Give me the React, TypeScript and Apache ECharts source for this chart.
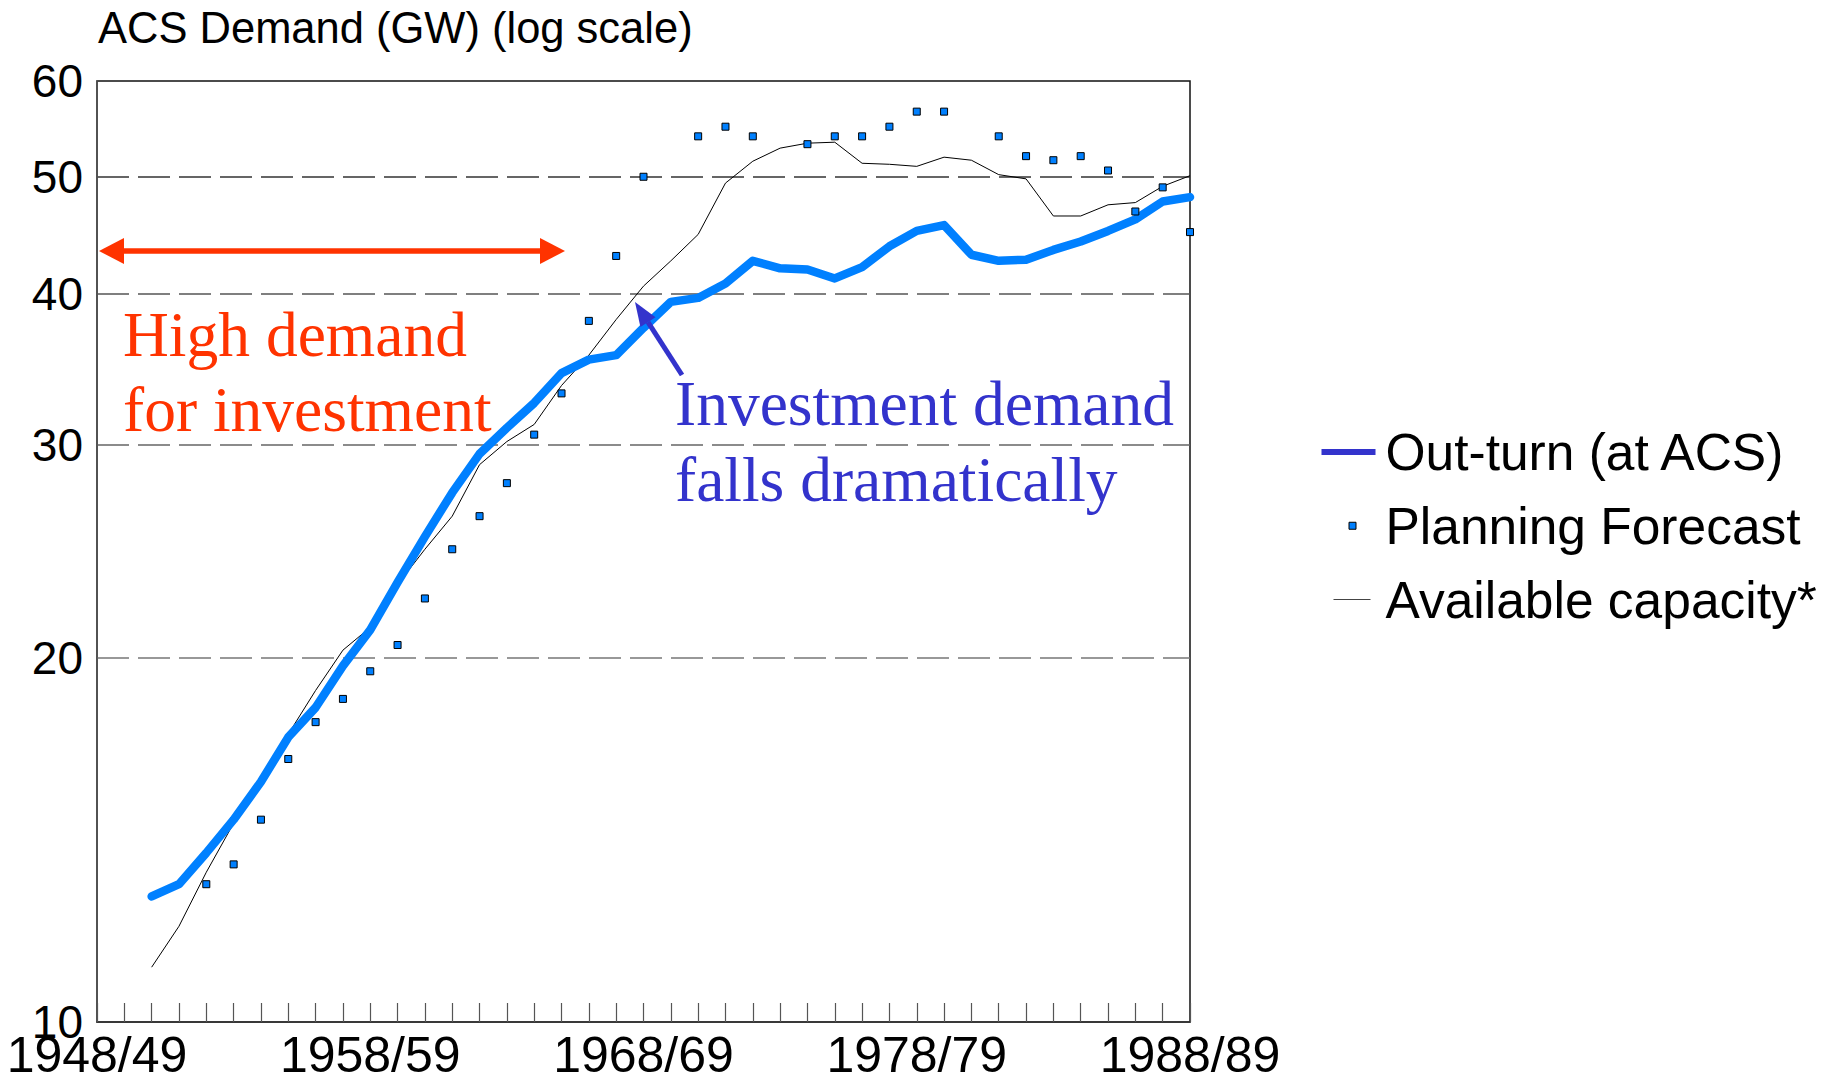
import React, { useEffect, useRef } from "react";
import * as echarts from "echarts";

const years = [
  "1948/49", "1949/50", "1950/51", "1951/52", "1952/53", "1953/54", "1954/55", "1955/56", "1956/57", "1957/58",
  "1958/59", "1959/60", "1960/61", "1961/62", "1962/63", "1963/64", "1964/65", "1965/66", "1966/67", "1967/68",
  "1968/69", "1969/70", "1970/71", "1971/72", "1972/73", "1973/74", "1974/75", "1975/76", "1976/77", "1977/78",
  "1978/79", "1979/80", "1980/81", "1981/82", "1982/83", "1983/84", "1984/85", "1985/86", "1986/87", "1987/88",
  "1988/89",
];

const yLabelValues = [10, 20, 30, 40, 50, 60];
const yGridValues = [20, 30, 40, 50];

const outTurn = [
  null, null, 12.7, 13.0, 13.8, 14.7, 15.8, 17.2, 18.2, 19.7,
  21.1, 23.1, 25.2, 27.4, 29.5, 31.0, 32.5, 34.4, 35.3, 35.6,
  37.5, 39.4, 39.7, 40.8, 42.6, 42.0, 41.9, 41.2, 42.1, 43.8,
  45.1, 45.6, 43.1, 42.6, 42.7, 43.5, 44.2, 45.1, 46.1, 47.7,
  48.1,
];

const planningForecast = [
  null, null, null, null, 13.0, 13.5, 14.7, 16.5, 17.7, 18.5,
  19.5, 20.5, 22.4, 24.6, 26.2, 27.9, 30.6, 33.1, 38.0, 43.0,
  50.0, null, 54.0, 55.0, 54.0, null, 53.2, 54.0, 54.0, 55.0,
  56.6, 56.6, null, 54.0, 52.0, 51.6, 52.0, 50.6, 46.8, 49.0,
  45.0,
];

const availableCapacity = [
  null, null, 11.1, 12.0, 13.3, 14.6, 15.9, 17.3, 18.8, 20.3,
  21.2, 23.0, 24.6, 26.2, 28.9, 30.2, 31.2, 33.6, 35.6, 38.1,
  40.6, 42.6, 44.8, 49.4, 51.5, 52.8, 53.3, 53.4, 51.3, 51.2,
  51.0, 51.9, 51.6, 50.2, 49.8, 46.4, 46.4, 47.4, 47.6, 49.1,
  50.1,
];

const SANS = "'Liberation Sans', Arial, Helvetica, sans-serif";
const SERIF = "'Liberation Serif', 'Times New Roman', serif";
const RED = "#FF3300";
const INDIGO = "#3333CC";
const BRIGHT = "#0080FF";

const lg = (v: number | null) => (v == null ? null : Math.log10(v));

export default function App() {
  const ref = useRef<HTMLDivElement>(null);

  useEffect(() => {
    if (!ref.current) return;
    const chart = echarts.init(ref.current, null, { renderer: "svg" });

    // blue arrow geometry (annotation)
    const tail = [682, 375];
    const tip = [635, 302];
    const dx = tip[0] - tail[0];
    const dy = tip[1] - tail[1];
    const len = Math.sqrt(dx * dx + dy * dy);
    const ux = dx / len;
    const uy = dy / len;
    const headLen = 24;
    const headHalf = 9;
    const bx = tip[0] - ux * headLen;
    const by = tip[1] - uy * headLen;
    const px = -uy;
    const py = ux;

    const option: any = {
      animation: false,
      backgroundColor: "#fff",
      title: {
        text: "ACS Demand (GW) (log scale)",
        left: 98,
        top: 6,
        padding: 0,
        textStyle: { fontSize: 43.5, fontWeight: "normal", fontFamily: SANS, color: "#000", lineHeight: 43 },
      },
      grid: {
        left: 97,
        top: 81,
        width: 1093,
        height: 941,
        show: true,
        borderColor: "#111",
        borderWidth: 1.5,
        backgroundColor: "transparent",
      },
      legend: {
        orient: "vertical",
        left: 1321,
        top: 426,
        padding: 0,
        itemGap: 21.75,
        itemWidth: 59,
        itemHeight: 16,
        symbolKeepAspect: true,
        selectedMode: false,
        textStyle: { fontSize: 51.5, fontFamily: SANS, color: "#000", lineHeight: 51 },
        data: [
          {
            name: "Out-turn (at ACS)",
            icon: "path://M0,0 M59,16 M0,5 L54,5 L54,11 L0,11 Z",
            itemStyle: { color: INDIGO, borderWidth: 0 },
          },
          {
            name: "Planning Forecast",
            icon: "path://M0,0 M59,16 M27.5,4.5 L34.5,4.5 L34.5,11.5 L27.5,11.5 Z",
            itemStyle: { color: BRIGHT, borderColor: "#000", borderWidth: 1 },
          },
          {
            name: "Available capacity*",
            icon: "path://M0,0 M59,16 M12,7.4 L49,7.4 L49,8.6 L12,8.6 Z",
            itemStyle: { color: "#444", borderWidth: 0 },
          },
        ],
      },
      xAxis: {
        type: "category",
        data: years,
        boundaryGap: false,
        axisLine: { show: true, lineStyle: { color: "#333", width: 1.5 } },
        axisTick: { show: true, inside: true, length: 19, interval: 0, lineStyle: { color: "#555", width: 1.2 } },
        axisLabel: { interval: 9, fontSize: 50, lineHeight: 44, margin: 11, color: "#000", fontFamily: SANS },
        splitLine: { show: false },
      },
      yAxis: {
        type: "value",
        min: 1,
        max: Math.log10(60),
        axisLine: { show: true, lineStyle: { color: "#555", width: 1.5 } },
        axisTick: { show: false, customValues: yGridValues.map((v) => Math.log10(v)) },
        axisLabel: {
          customValues: yLabelValues.map((v) => Math.log10(v)),
          formatter: (v: number) => String(Math.round(Math.pow(10, v))),
          fontSize: 46,
          lineHeight: 30,
          margin: 14,
          color: "#000",
          fontFamily: SANS,
        },
        splitLine: {
          show: true,
          lineStyle: { type: [32, 9], color: ["#777", "#666", "#555", "#333"], width: 1.5 },
        },
      },
      series: [
        {
          name: "Available capacity*",
          type: "line",
          data: availableCapacity.map(lg),
          symbol: "none",
          lineStyle: { color: "#000", width: 1 },
          itemStyle: { color: "#000" },
          z: 2,
        },
        {
          name: "Out-turn (at ACS)",
          type: "line",
          data: outTurn.map(lg),
          symbol: "none",
          lineStyle: { color: BRIGHT, width: 8.5, cap: "round", join: "round" },
          itemStyle: { color: BRIGHT },
          z: 3,
        },
        {
          name: "Planning Forecast",
          type: "scatter",
          data: planningForecast.map((v) => (v == null ? "-" : Math.log10(v))),
          symbol: "rect",
          symbolSize: 7,
          itemStyle: { color: BRIGHT, borderColor: "#000", borderWidth: 1, opacity: 1 },
          z: 4,
        },
      ],
      graphic: [
        {
          type: "line",
          shape: { x1: 118, y1: 251, x2: 546, y2: 251 },
          style: { stroke: RED, lineWidth: 5.5 },
          z: 10,
        },
        {
          type: "polygon",
          shape: { points: [[99, 251], [124, 238], [124, 264]] },
          style: { fill: RED },
          z: 10,
        },
        {
          type: "polygon",
          shape: { points: [[565, 251], [540, 238], [540, 264]] },
          style: { fill: RED },
          z: 10,
        },
        {
          type: "text",
          left: 123,
          top: 297,
          z: 10,
          style: {
            text: "High demand\nfor investment",
            font: `63.5px ${SERIF}`,
            fontSize: 63.5,
            fontFamily: SERIF,
            lineHeight: 75,
            fill: RED,
          },
        },
        {
          type: "line",
          shape: { x1: tail[0], y1: tail[1], x2: bx, y2: by },
          style: { stroke: INDIGO, lineWidth: 5 },
          z: 10,
        },
        {
          type: "polygon",
          shape: {
            points: [
              [tip[0], tip[1]],
              [bx + px * headHalf, by + py * headHalf],
              [bx - px * headHalf, by - py * headHalf],
            ],
          },
          style: { fill: INDIGO },
          z: 10,
        },
        {
          type: "text",
          left: 675,
          top: 365,
          z: 10,
          style: {
            text: "Investment demand\nfalls dramatically",
            font: `63.5px ${SERIF}`,
            fontSize: 63.5,
            fontFamily: SERIF,
            lineHeight: 76,
            fill: INDIGO,
          },
        },
      ],
    };

    chart.setOption(option);
    return () => {
      chart.dispose();
    };
  }, []);

  return (
    <div
      ref={ref}
      style={{ position: "absolute", left: 0, top: 0, width: 1833, height: 1084, background: "#fff" }}
    />
  );
}
